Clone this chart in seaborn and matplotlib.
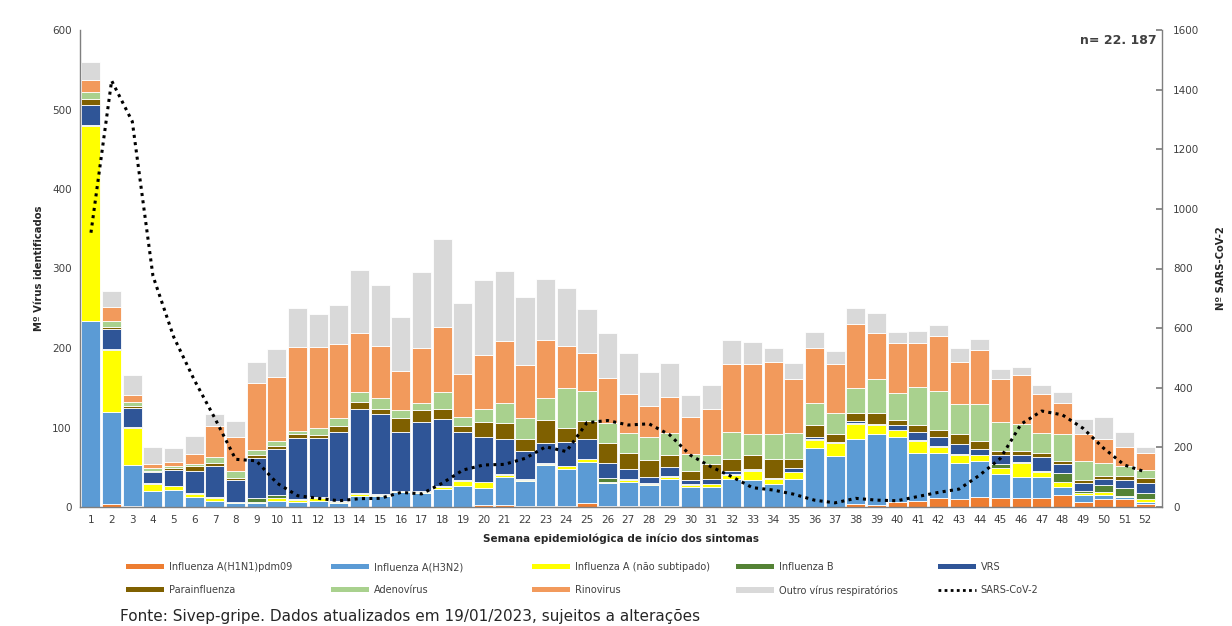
import numpy as np
import pandas as pd
import matplotlib
matplotlib.use("Agg")
import matplotlib.pyplot as plt
import seaborn as sns
from matplotlib.patches import Patch
from matplotlib.lines import Line2D

weeks = list(range(1, 53))

h1n1 = [0, 4, 1, 0, 0, 0, 0, 0, 0, 0, 0, 0, 0, 0, 0, 0, 0, 0, 0, 2, 2.5, 1, 1, 1, 5, 1,
        1, 1, 1, 0, 0, 0, 0, 0, 0, 0, 0, 4, 3, 6, 7.5, 11.7, 10, 13, 11.7, 11, 11.7, 15, 6.7, 10, 9.6, 3.8]
h3n2 = [234, 115, 52, 20.5, 22, 13, 7.5, 5.4, 4.6, 8, 6, 7, 5, 14, 14, 19, 18, 22.6, 26.8, 21.5, 35.5, 32, 52, 47, 52, 29,
        31, 26.7, 34, 25.5, 25.5, 34.8, 34, 29, 34.8, 73.8, 64, 81, 89, 82, 61, 56, 45, 45, 29.8, 26.4, 25.7, 9.8, 8.3, 5, 3.3, 2.9]
flu_a_ns = [245, 78, 47, 8.5, 4, 3, 3.5, 0.5, 1.5, 3, 3, 4, 1, 2, 1.5, 1, 1, 3, 6, 7.5, 2, 1, 1.5, 3, 3, 2,
            2.5, 1.5, 2.5, 2, 3, 6, 11.7, 6, 8.8, 10.5, 16, 19.4, 11, 8.4, 14.7, 8.4, 10.4, 7, 7, 17.6, 7, 7, 3, 4.3, 1, 2.9]
flu_b = [1, 2, 1, 1, 1, 1, 1, 0.5, 5, 3.5, 1, 1, 1, 1, 0.5, 0.5, 1, 1, 1, 1, 1, 1, 0.5, 0.5, 0.5, 4,
         1, 0.5, 1, 1, 1, 1, 1, 1, 1, 1, 1, 1, 1, 1, 1, 1, 1, 1, 5.5, 2, 1, 11.3, 2.5, 8.4, 9.6, 7.6]
vrs = [26, 25, 24, 14, 20, 28, 40, 28, 50, 59, 77, 75, 87, 106, 101, 74, 87, 84, 61, 56.5, 45, 36, 25, 30, 25, 19,
       12, 8, 12, 6, 6, 3.7, 1.3, 0.5, 4, 3, 1, 3, 0.5, 6, 10.7, 10.8, 12.4, 7.4, 11.4, 8.4, 17, 10.5, 9.3, 7.5, 10.5, 13.4]
parainfluenza = [7, 3, 2.5, 1.5, 2, 6, 3, 1.5, 4, 3, 5, 3.5, 8, 9.5, 6.5, 18, 14.7, 13, 7.5, 18, 20, 14.5, 29.7, 18, 23, 25,
                 21, 21, 15.4, 10.7, 18.7, 14.3, 17.4, 23.5, 11.8, 14.7, 9.4, 10, 13.4, 6.3, 8.3, 9, 12.6, 9, 5.4, 5.4, 5, 4.2, 4.2, 4.2, 5.4, 5.4]
adenovirus = [9, 7, 4, 4, 2.5, 3.4, 7.5, 9, 6, 6.7, 3, 9, 10, 12.5, 13.7, 9, 9, 20.5, 10.5, 16.5, 24.7, 27, 28, 50, 38, 26,
              24, 29, 27, 22, 11.7, 34.7, 26, 31.4, 32.3, 27.4, 27, 31, 43, 34, 48, 49, 38, 46.6, 35.7, 33.6, 26, 33.5, 24, 15.6, 12.6, 10.5]
rinovirus = [15, 18, 10, 4, 5.5, 12.5, 40, 43.6, 85, 80.5, 106, 102, 92.6, 74, 65, 50, 69, 82, 54.6, 68, 78, 66, 72, 52.5, 47, 56,
             50, 38.8, 46, 46, 57.5, 86, 88, 90.6, 68, 70, 62, 81, 58, 63, 55.7, 69, 52.4, 69, 55, 61.6, 48.5, 39, 33.5, 30, 24, 21.8]
outros = [23, 20, 25, 22, 16.6, 22, 14, 20, 26.5, 35, 49, 40.7, 49, 79, 76.7, 68, 95.6, 110.7, 89, 95, 88, 86, 77.4, 74, 56, 56.5,
          51, 43, 42, 28, 29.7, 29.3, 28.5, 18.4, 21, 20, 16, 19.7, 25, 13.5, 14.8, 14, 17.6, 13.5, 12.6, 9.7, 11.5, 14, 19.3, 27.8, 18.7, 7.6]
sars_cov2 = [920, 1430, 1293, 775, 571, 426, 297, 160, 155, 80, 38, 29, 21, 28, 29, 49, 44, 80, 124, 141, 143, 163, 202, 186, 283, 290,
             275, 279, 242, 174, 135, 102, 65, 57, 43, 23, 14, 29, 23, 21, 35, 49, 60, 107, 163, 278, 322, 309, 264, 197, 141, 118]

series_names = ["Influenza A(H1N1)pdm09", "Influenza A(H3N2)", "Influenza A (não subtipado)", "Influenza B", "VRS",
                "Parainfluenza", "Adenovírus", "Rinovirus", "Outro vírus respiratórios"]
series_values = [h1n1, h3n2, flu_a_ns, flu_b, vrs, parainfluenza, adenovirus, rinovirus, outros]
colors = ["#ED7D31", "#5B9BD5", "#FFFF00", "#548235", "#2F5597", "#7F6000", "#A9D18E", "#F29A5C", "#D9D9D9"]

left_ticks = [0, 100, 200, 300, 400, 500, 600]
right_ticks = [0, 200, 400, 600, 800, 1000, 1200, 1400, 1600]

rows = []
for name, vals in zip(series_names, series_values):
    for w, v in zip(weeks, vals):
        rows.append({"week": w, "virus": name, "n": v})
df = pd.DataFrame(rows)
df_sars = pd.DataFrame({"week": weeks, "sars": sars_cov2})

sns.set_theme(style="white")
plt.rcParams["font.family"] = ["DejaVu Sans"]

fig = plt.figure(figsize=(12.32, 6.26), dpi=100)
ax = fig.add_axes([80 / 1232, 1 - 507 / 626, (1162 - 80) / 1232, (507 - 30) / 626])

palette = dict(zip(series_names, colors))
sns.histplot(data=df, x="week", weights="n", hue="virus", hue_order=series_names[::-1],
             multiple="stack", discrete=True, shrink=0.92, palette=palette, alpha=1,
             edgecolor="white", linewidth=0.6, legend=False, ax=ax)

ax.set_xlim(0.47, 52.82)
ax.set_ylim(0, 600)
ax.set_yticks(left_ticks)
ax.set_yticklabels([str(t) for t in left_ticks], fontsize=7.5, color="#404040")
ax.set_xticks(weeks)
ax.set_xticklabels([str(w) for w in weeks], fontsize=7.5, color="#404040")
ax.tick_params(axis="both", length=0, pad=6)
ax.set_xlabel("Semana epidemiológica de início dos sintomas", fontsize=7.5, fontweight="bold", color="#262626", labelpad=6)
ax.set_ylabel("Mº Vírus identificados", fontsize=8, fontweight="bold", fontstretch="condensed", color="#262626", labelpad=6)
for s in ["top", "right"]:
    ax.spines[s].set_visible(False)
for s in ["left", "bottom"]:
    ax.spines[s].set_color("#7f7f7f")
    ax.spines[s].set_linewidth(1)

ax2 = ax.twinx()
sns.lineplot(data=df_sars, x="week", y="sars", ax=ax2, color="black", linewidth=2.2,
             linestyle=(0, (1, 1.4)), legend=False)
ax2.set_ylim(0, 1600)
ax2.set_yticks(right_ticks)
ax2.set_yticklabels([str(t) for t in right_ticks], fontsize=7.5, color="#404040")
ax2.tick_params(axis="y", direction="in", length=4, color="#7f7f7f", pad=8)
ax2.set_ylabel("Nº SARS-CoV-2", fontsize=8, fontweight="bold", fontstretch="condensed", color="#262626", labelpad=12)
ax2.set_xlabel("")
for s in ["top", "left", "bottom"]:
    ax2.spines[s].set_visible(False)
ax2.spines["right"].set_color("#7f7f7f")
ax2.spines["right"].set_linewidth(1)
ax2.set_xlim(0.47, 52.82)

fig.text(1157 / 1232, 1 - 40 / 626, "n= 22. 187", ha="right", va="center", fontsize=9, fontweight="bold", color="#404040")

handles = [Patch(facecolor=c, edgecolor="none") for c in colors]
handles.append(Line2D([0], [0], color="black", linewidth=2, linestyle=(0, (1, 1.2))))
labels = series_names + ["SARS-CoV-2"]
col_x = [126, 331, 532, 736, 938]
for ci, xpix in enumerate(col_x):
    idx = [ci, ci + 5]
    leg = fig.legend([handles[i] for i in idx], [labels[i] for i in idx], ncol=1,
                     loc="upper left", bbox_to_anchor=(xpix / 1232, 1 - 562 / 626),
                     frameon=False, fontsize=7, handlelength=3.9, handleheight=0.5,
                     handletextpad=0.5, labelspacing=1.35, borderaxespad=0, borderpad=0)
    for t in leg.get_texts():
        t.set_color("#404040")

fig.text(120 / 1232, 1 - 616 / 626, "Fonte: Sivep-gripe. Dados atualizados em 19/01/2023, sujeitos a alterações",
         ha="left", va="center", fontsize=11, color="#262626")

fig.savefig("out.png", dpi=100, facecolor="white")
